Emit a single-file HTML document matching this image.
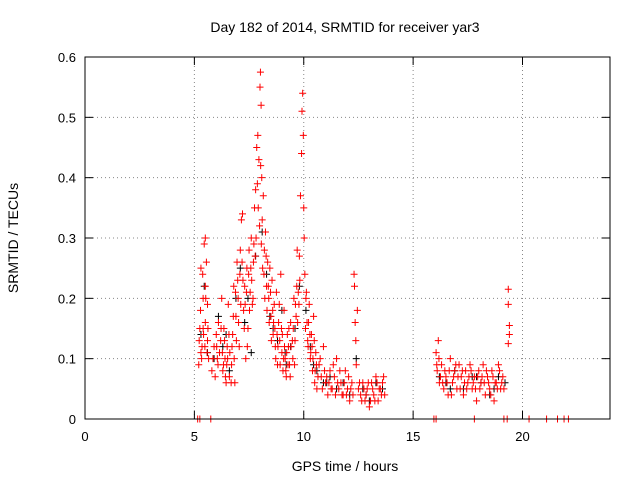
<!DOCTYPE html>
<html><head><meta charset="utf-8"><style>
body{margin:0;background:#fff}
svg{display:block;font-family:"Liberation Sans",sans-serif}
</style></head><body>
<svg id="chart" width="640" height="480">
<text x="345" y="32" font-size="14" text-anchor="middle">Day 182 of 2014, SRMTID for receiver yar3</text>
<text x="345" y="471" font-size="14" text-anchor="middle">GPS time / hours</text>
<text x="0" y="0" font-size="14" text-anchor="middle" transform="translate(18,238) rotate(-90)">SRMTID / TECUs</text>
<g id="grid"></g>
<g id="ticks"></g>
<g id="black"></g>
<g id="red"></g>
<rect x="85" y="57" width="525" height="362" fill="none" stroke="#000"/>
</svg>
<script>
const xTicks=[0,5,10,15,20];
const yTicks=[0,0.1,0.2,0.3,0.4,0.5,0.6];
const yTickLabels=["0","0.1","0.2","0.3","0.4","0.5","0.6"];
const redT=[5.2,5.25,5.3,5.35,5.4,5.45,5.5,5.5,5.55,5.6,5.65,5.3,5.4,5.5,5.6,5.8,5.9,6.0,6.05,6.1,6.2,6.25,6.3,6.35,6.4,6.45,6.5,6.55,6.6,6.7,6.75,6.8,6.85,6.9,6.95,7.0,7.05,7.1,7.15,7.2,7.25,7.3,7.35,7.4,7.45,7.5,7.55,7.6,7.65,7.7,7.75,7.8,7.85,7.9,7.95,8.0,8.02,8.05,8.08,8.1,8.15,8.2,8.25,8.3,8.35,8.4,8.45,8.5,8.55,8.6,8.65,8.7,8.75,8.8,8.85,8.9,8.95,9.0,9.05,9.1,9.15,9.2,9.25,9.3,9.35,9.4,9.5,9.55,9.6,9.65,9.7,9.75,9.8,9.85,9.9,9.92,9.95,9.98,10.0,10.05,10.1,10.15,10.2,10.25,10.3,10.35,10.4,10.45,10.5,10.55,10.6,10.7,10.8,10.9,11.0,11.1,11.2,11.3,11.4,11.5,11.6,11.7,11.8,11.9,12.0,12.1,12.2,12.3,12.32,12.35,12.38,12.4,12.45,12.5,12.6,12.7,12.8,12.9,13.0,13.1,13.2,13.3,13.4,13.5,13.6,13.7,16.05,16.1,16.15,16.2,16.3,16.4,16.5,16.6,16.7,16.8,16.9,17.0,17.1,17.2,17.3,17.4,17.5,17.6,17.7,17.8,17.9,18.0,18.1,18.2,18.3,18.4,18.5,18.6,18.7,18.8,18.9,19.0,19.1,19.35,19.35,19.4,19.4,19.35,5.15,5.25,5.75,15.95,16.05,17.8,19.15,19.3,20.3,21.1,21.6,21.9,22.1];
const redV=[.09,.15,.25,.12,.2,.29,.3,.16,.26,.13,.1,.11,.15,.22,.19,.08,.12,.14,.1,.16,.13,.2,.08,.15,.1,.06,.12,.19,.07,.09,.14,.22,.06,.17,.26,.2,.12,.28,.33,.34,.18,.22,.1,.25,.15,.28,.21,.3,.19,.26,.35,.38,.45,.47,.43,.55,.575,.52,.4,.33,.37,.28,.31,.22,.26,.2,.25,.17,.23,.14,.19,.12,.21,.09,.16,.13,.24,.11,.08,.18,.1,.07,.14,.12,.09,.16,.1,.2,.13,.17,.28,.21,.27,.37,.44,.51,.54,.47,.35,.24,.2,.16,.12,.19,.1,.14,.08,.17,.06,.11,.05,.09,.07,.12,.06,.04,.08,.05,.07,.1,.05,.06,.04,.08,.05,.03,.06,.24,.22,.16,.13,.09,.18,.05,.04,.06,.03,.05,.02,.06,.04,.07,.03,.05,.06,.04,.11,.08,.13,.06,.09,.05,.07,.04,.1,.06,.08,.05,.09,.07,.04,.08,.06,.09,.05,.07,.03,.08,.06,.09,.04,.07,.05,.08,.03,.06,.09,.05,.07,.215,.19,.155,.14,.125,0,0,0,0,0,0,0,0,0,0,0,0,0];
const redExtraT=[5.22,5.28,5.33,5.38,5.42,5.48,5.52,5.58,5.62,5.85,5.95,6.02,6.08,6.15,6.22,6.28,6.33,6.38,6.42,6.48,6.52,6.58,6.62,6.68,6.72,6.78,6.82,6.88,6.92,6.98,7.02,7.08,7.12,7.18,7.22,7.28,7.32,7.38,7.42,7.48,7.52,7.58,7.62,7.68,7.72,7.78,7.82,7.88,7.92,7.98,8.03,8.06,8.12,8.18,8.22,8.28,8.32,8.38,8.42,8.48,8.52,8.58,8.62,8.68,8.72,8.78,8.82,8.88,8.92,8.98,9.02,9.08,9.12,9.18,9.22,9.28,9.32,9.38,9.42,9.48,9.52,9.58,9.62,9.68,9.72,9.78,9.82,10.02,10.08,10.12,10.18,10.22,10.28,10.32,10.38,10.42,10.48,10.52,10.58,10.65,10.75,10.85,10.95,11.05,11.15,11.25,11.35,11.45,11.55,11.65,11.75,11.85,11.95,12.05,12.15,12.25,12.55,12.65,12.75,12.85,12.95,13.05,13.15,13.25,13.35,13.45,13.55,13.65,16.08,16.18,16.25,16.35,16.45,16.55,16.65,16.75,16.85,16.95,17.05,17.15,17.25,17.35,17.45,17.55,17.65,17.75,17.85,17.95,18.05,18.15,18.25,18.35,18.45,18.55,18.65,18.75,18.85,18.95,19.05,19.15];
const redExtraV=[.13,.18,.1,.24,.14,.12,.2,.11,.15,.1,.07,.12,.09,.11,.15,.11,.09,.13,.07,.09,.1,.14,.11,.06,.12,.17,.1,.21,.13,.23,.16,.24,.19,.26,.23,.15,.19,.21,.12,.24,.18,.25,.23,.2,.29,.27,.3,.39,.35,.32,.42,.29,.25,.24,.2,.27,.18,.22,.16,.21,.13,.18,.16,.15,.1,.14,.12,.19,.09,.15,.14,.1,.12,.08,.11,.09,.15,.07,.12,.13,.15,.09,.19,.22,.16,.19,.23,.3,.15,.21,.13,.16,.14,.11,.12,.1,.13,.08,.09,.07,.1,.05,.08,.07,.06,.05,.09,.04,.06,.08,.04,.06,.04,.07,.05,.04,.06,.03,.05,.04,.06,.03,.05,.03,.06,.05,.04,.07,.09,.1,.07,.06,.08,.06,.08,.04,.07,.09,.07,.05,.08,.06,.05,.07,.08,.06,.05,.07,.05,.07,.06,.08,.06,.04,.07,.06,.05,.08,.06,.05];
const blackT=[5.3,5.45,5.6,5.9,6.1,6.3,6.6,6.9,7.1,7.3,7.6,7.8,8.1,8.3,8.6,8.8,9.0,9.2,9.4,9.6,9.8,10.1,10.3,10.6,10.9,11.2,11.5,11.8,12.1,12.4,12.7,13.0,13.3,13.6,16.2,16.5,16.9,17.3,17.7,18.1,18.5,18.9,19.2,6.45,7.45,8.45,9.15,10.45,11.05,12.85,16.7,17.9,18.7];
const blackV=[.14,.22,.11,.1,.17,.12,.08,.2,.25,.16,.11,.27,.31,.24,.15,.13,.18,.09,.12,.15,.22,.18,.12,.08,.06,.07,.05,.06,.04,.1,.05,.03,.06,.05,.07,.06,.08,.05,.07,.06,.04,.07,.06,.14,.2,.17,.11,.09,.06,.04,.05,.07,.05];
const X0=85,X1=610,Y0=419,Y1=57;
const xs=t=>X0+t*(X1-X0)/24, ys=v=>Y0-v*(Y0-Y1)/0.6;
const NS="http://www.w3.org/2000/svg";
function mk(tag,at,parent){const e=document.createElementNS(NS,tag);for(const k in at)e.setAttribute(k,at[k]);parent.appendChild(e);return e;}
const grid=document.getElementById('grid'),ticks=document.getElementById('ticks');
yTicks.forEach((v,i)=>{const y=ys(v);
 if(i>0&&i<yTicks.length-1){const g=mk('line',{x1:X0,x2:X1,y1:y,y2:y,stroke:'#888','stroke-dasharray':'1,3'},grid);
 
 }
 mk('line',{x1:X0,x2:X0+8,y1:y,y2:y,stroke:'#000'},ticks);mk('line',{x1:X1,x2:X1-8,y1:y,y2:y,stroke:'#000'},ticks);
 const t=mk('text',{x:X0-9,y:y+5,'font-size':13,'text-anchor':'end'},ticks);t.textContent=yTickLabels[i];
 
 });
xTicks.forEach((v,i)=>{const x=xs(v);
 if(i>0){const g=mk('line',{x1:x,x2:x,y1:Y0,y2:Y1,stroke:'#888','stroke-dasharray':'1,3'},grid);
 
 }
 mk('line',{x1:x,x2:x,y1:Y0,y2:Y0-8,stroke:'#000'},ticks);mk('line',{x1:x,x2:x,y1:Y1,y2:Y1+8,stroke:'#000'},ticks);
 const t=mk('text',{x:x,y:Y0+22,'font-size':13,'text-anchor':'middle'},ticks);t.textContent=String(v);
 
 });
function plot(T,V,col,id){const g=document.getElementById(id);
 T.forEach((t,i)=>{const x=xs(t),y=ys(V[i]);
 const p=mk('path',{d:`M${x-3.5},${y}h7M${x},${y-3.5}v7`,stroke:col,'stroke-width':1},g);
 
 });}
plot(blackT,blackV,'#000','black');
plot(redT,redV,'#f00','red');
plot(redExtraT,redExtraV,'#f00','red');
</script>
</body></html>
